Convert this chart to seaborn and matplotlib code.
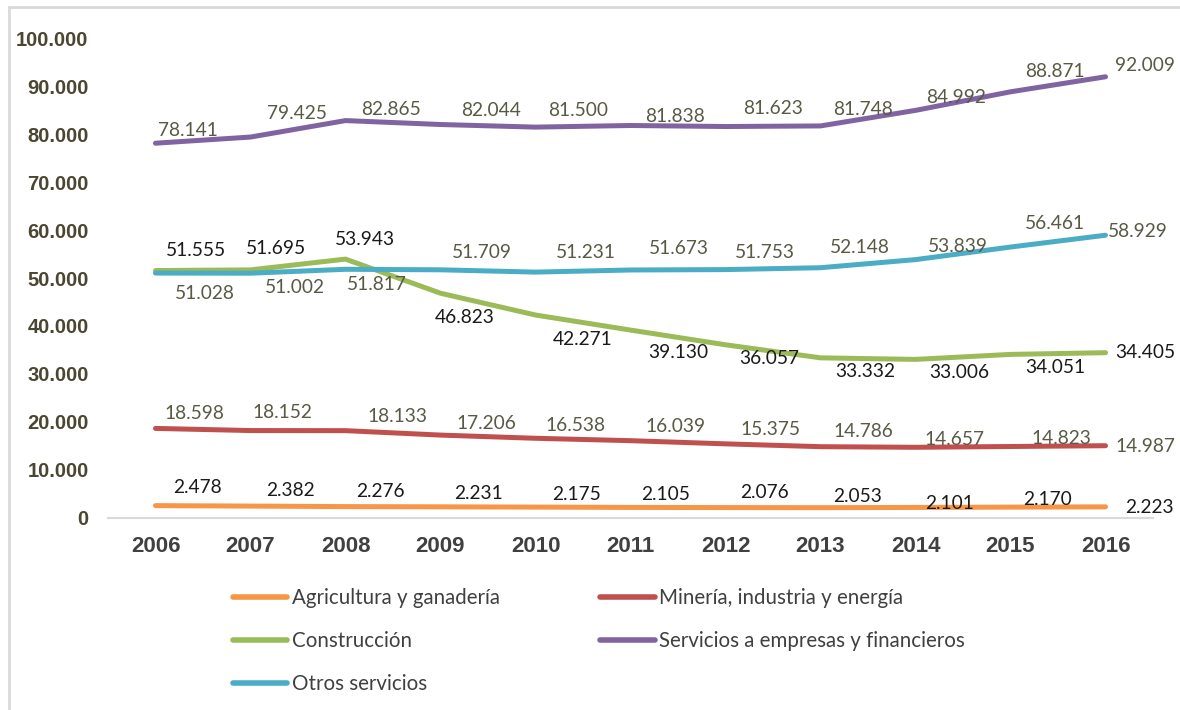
import matplotlib
matplotlib.use("Agg")
import matplotlib.pyplot as plt
from matplotlib.lines import Line2D
from matplotlib.patches import Rectangle
import numpy as np
import pandas as pd
import seaborn as sns

# ---- data -------------------------------------------------------------
years = [2006, 2007, 2008, 2009, 2010, 2011, 2012, 2013, 2014, 2015, 2016]

agricultura = [2478, 2382, 2276, 2231, 2175, 2105, 2076, 2053, 2101, 2170, 2223]
mineria = [18598, 18152, 18133, 17206, 16538, 16039, 15375, 14786, 14657, 14823, 14987]
construccion = [51555, 51695, 53943, 46823, 42271, 39130, 36057, 33332, 33006, 34051, 34405]
servicios_emp = [78141, 79425, 82865, 82044, 81500, 81838, 81623, 81748, 84992, 88871, 92009]
otros_servicios = [51028, 51002, 51817, 51709, 51231, 51673, 51753, 52148, 53839, 56461, 58929]

sectores = [
    "Agricultura y ganadería",
    "Minería, industria y energía",
    "Construcción",
    "Servicios a empresas y financieros",
    "Otros servicios",
]
series = [agricultura, mineria, construccion, servicios_emp, otros_servicios]

y_ticks = [0, 10000, 20000, 30000, 40000, 50000, 60000, 70000, 80000, 90000, 100000]

# ---- styling ----------------------------------------------------------
colores = {
    "Agricultura y ganadería": "#F79646",
    "Minería, industria y energía": "#C0504D",
    "Construcción": "#9BBB59",
    "Servicios a empresas y financieros": "#8064A2",
    "Otros servicios": "#4BACC6",
}
color_etiqueta = {
    "Agricultura y ganadería": "#1a1a1a",
    "Minería, industria y energía": "#595945",
    "Construcción": "#1a1a1a",
    "Servicios a empresas y financieros": "#595945",
    "Otros servicios": "#595945",
}
# label offsets from each point, in pixels (dx, dy)
desplaz = {
    "Agricultura y ganadería": [(42, 18), (40, 16), (35, 15), (38, 13), (41, 13), (35, 13),
                                (39, 15), (37, 11), (34, 4), (37, 8), (44, -1)],
    "Minería, industria y energía": [(39, 15), (32, 18), (52, 14), (46, 12), (40, 13), (45, 14),
                                     (45, 14), (43, 15), (39, 8), (51, 8), (40, -1)],
    "Construcción": [(40, 20), (25, 21), (19, 20), (24, -24), (47, -24), (48, -22),
                     (44, -14), (45, -14), (44, -13), (45, -13), (40, 0)],
    "Servicios a empresas y financieros": [(32, 13), (46, 24), (46, 11), (51, 14), (43, 17), (45, 9),
                                           (48, 18), (42, 16), (41, 13), (44, 20), (39, 11)],
    "Otros servicios": [(49, -20), (44, -14), (31, -15), (41, 17), (50, 20), (48, 21),
                        (39, 17), (39, 20), (42, 13), (44, 24), (32, 4)],
}

def miles(v):
    return f"{v:,.0f}".replace(",", ".")

df = pd.DataFrame(
    [(s, y, v) for s, vals in zip(sectores, series) for y, v in zip(years, vals)],
    columns=["Sector", "Año", "Valor"],
)

sns.set_style("white")
plt.rcParams["font.family"] = ["Lato", "DejaVu Sans"]
narrow = ["Liberation Sans Narrow", "Liberation Sans", "DejaVu Sans"]

fig = plt.figure(figsize=(11.8, 7.1), dpi=100)
ax = fig.add_axes([108 / 1180, 1 - 517.5 / 710, (1153 - 108) / 1180, (517.5 - 38.5) / 710])

sns.lineplot(
    data=df, x="Año", y="Valor", hue="Sector", hue_order=sectores,
    palette=colores, linewidth=3.6, estimator=None, legend=False, ax=ax,
)
for ln in ax.get_lines():
    ln.set_solid_capstyle("round")
    ln.set_solid_joinstyle("round")

# value labels
for s, vals in zip(sectores, series):
    for (y, v), (dx, dy) in zip(zip(years, vals), desplaz[s]):
        ax.annotate(
            miles(v), xy=(y, v), xytext=(dx, dy), textcoords="offset pixels",
            ha="center", va="center", fontsize=13.8, color=color_etiqueta[s],
            annotation_clip=False,
        )

ax.set_xlim(2005.5, 2016.5)
ax.set_ylim(0, 100000)
ax.set_xticks(years)
ax.set_xticklabels([str(y) for y in years], fontfamily=narrow, fontweight="bold",
                   fontsize=16, color="#404040")
ax.set_yticks(y_ticks)
ax.set_yticklabels([miles(t) for t in y_ticks], fontfamily=narrow, fontweight="bold",
                   fontsize=14.5, color="#4a4632")
ax.tick_params(axis="both", length=0)
ax.tick_params(axis="y", pad=14)
ax.tick_params(axis="x", pad=13)
ax.set_xlabel("")
ax.set_ylabel("")
for side in ["left", "right", "top"]:
    ax.spines[side].set_visible(False)
ax.spines["bottom"].set_color("#d9d9d9")
ax.spines["bottom"].set_linewidth(1.5)
ax.grid(False)

# legend: two columns, filled row by row
orden = [0, 2, 4, 1, 3]
handles = [Line2D([], [], color=colores[sectores[i]], lw=4, solid_capstyle="round") for i in orden]
labels = [sectores[i] for i in orden]
fig.legend(
    handles, labels, ncol=2, loc="upper left",
    bbox_to_anchor=(233 / 1180, 1 - 588 / 710), frameon=False,
    fontsize=14.8, handlelength=2.65, handletextpad=0.2, labelspacing=1.13,
    columnspacing=4.9, borderpad=0, borderaxespad=0, labelcolor="#404040",
)

# outer frame
fig.patches.append(Rectangle((9 / 1180, -0.05), 1.2, 1 - 7 / 710 + 0.05,
                             transform=fig.transFigure, fill=False,
                             edgecolor="#d9d9d9", linewidth=2))

fig.savefig("out.png", dpi=100)
